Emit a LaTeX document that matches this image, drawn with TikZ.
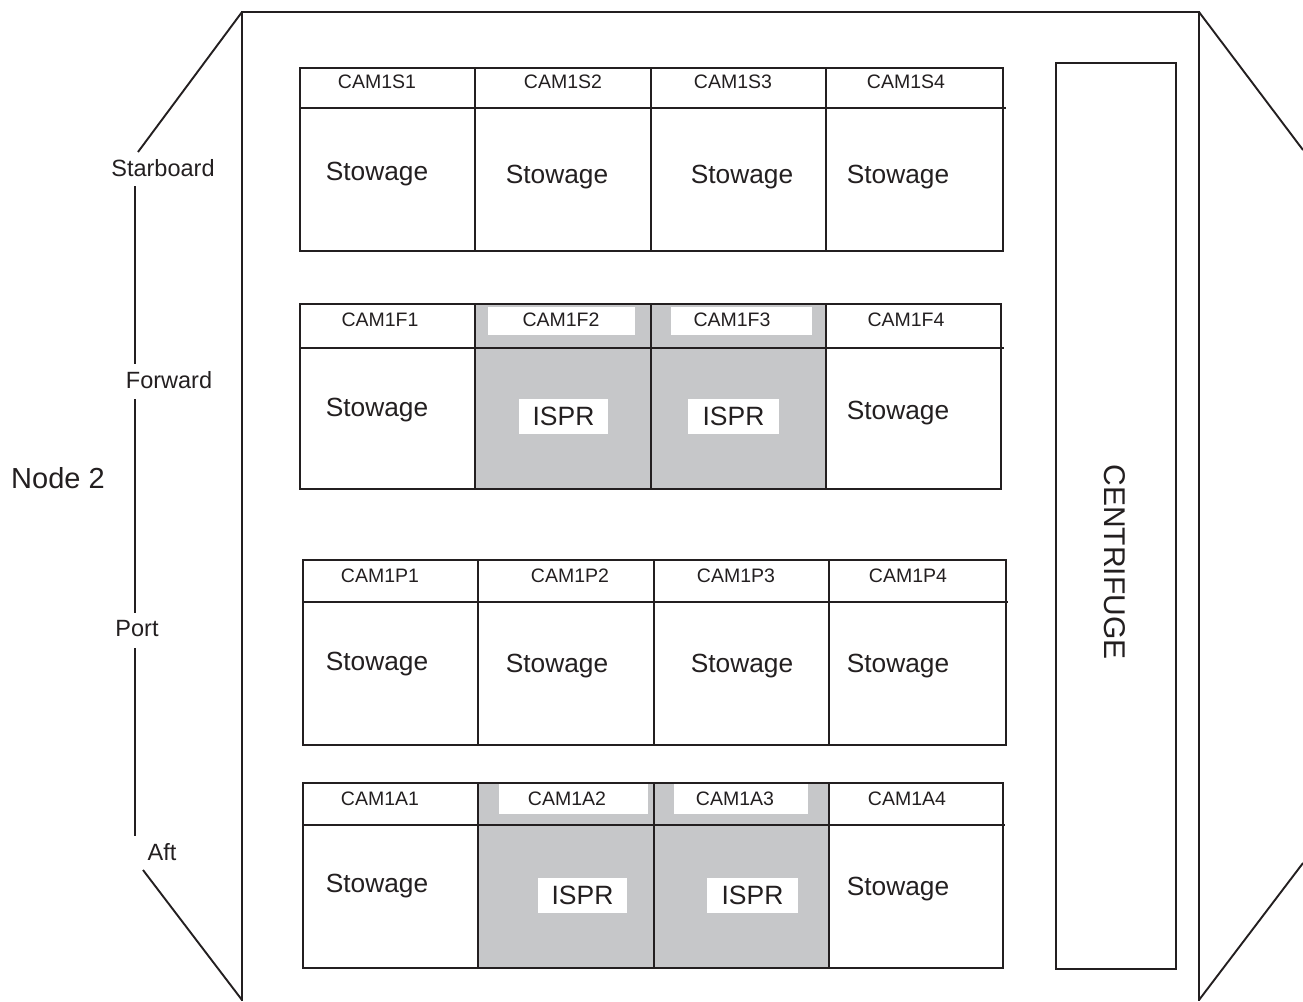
\documentclass[tikz,border=0pt]{standalone}
\usepackage{fontspec}
\setmainfont{Liberation Sans}
\definecolor{ink}{HTML}{231F20}
\definecolor{rackgray}{HTML}{C6C7C9}
\begin{document}
\begin{tikzpicture}[x=1pt,y=-1pt,
  line width=1.9pt, draw=ink, text=ink,
  hdr/.style={font=\fontsize{19.5}{22}\selectfont, inner sep=0pt},
  stow/.style={font=\fontsize{26.3}{30}\selectfont, inner sep=0pt, yshift=-3pt},
  ispr/.style={font=\fontsize{26.5}{30}\selectfont, inner sep=0pt},
  side/.style={font=\fontsize{23.5}{27}\selectfont, inner sep=0pt},
  whitebox/.style={fill=white, draw=none}]
\useasboundingbox (0,0) rectangle (1303,1001);

% outer module outline
\draw (242,1001) -- (242,12) -- (1199,12) -- (1199,1001);
\draw (242,12) -- (138,152);
\draw (143,870) -- (242,1000);
\draw (1199,12) -- (1303,150);
\draw (1199,1000) -- (1303,863);

% side axis
\node[side] (starboard) at (163,168) {Starboard};
\node[side] (forward) at (169,380) {Forward};
\node[side] (port) at (137,629) {Port};
\node[side] (aft) at (162,852) {Aft};
\node[font=\fontsize{29}{33}\selectfont, inner sep=0pt] (node2) at (58,478) {Node 2};
\draw (135,186) -- (135,364);
\draw (135,399) -- (135,613);
\draw (135,648) -- (135,836);

% gray ISPR racks
\fill[rackgray] (475,304) rectangle (826,489);
\fill[rackgray] (478,783) rectangle (829,968);
\fill[white] (488,307) rectangle (635,335);
\fill[white] (671,307) rectangle (812,335);
\fill[white] (499,784) rectangle (648,814);
\fill[white] (674,784) rectangle (808,814);

% row S
\draw (300,68) rectangle (1003,251);
\draw (300,108) -- (1006,108);
\foreach \x in {475,651,826} \draw (\x,68) -- (\x,251);
% row F
\draw (300,304) rectangle (1001,489);
\draw (300,348) -- (1004,348);
\foreach \x in {475,651,826} \draw (\x,304) -- (\x,489);
% row P
\draw (303,560) rectangle (1006,745);
\draw (303,602) -- (1008,602);
\foreach \x in {478,654,829} \draw (\x,560) -- (\x,745);
% row A
\draw (303,783) rectangle (1003,968);
\draw (303,825) -- (1005,825);
\foreach \x in {478,654,829} \draw (\x,783) -- (\x,968);

% centrifuge
\draw (1056,63) rectangle (1176,969);
\node[font=\fontsize{30}{34}\selectfont, inner sep=0pt, rotate=-90] (centrifuge) at (1115,562) {CENTRIFUGE};

% row S labels
\node[hdr] (s1) at (377,82) {CAM1S1};
\node[hdr] (s2) at (563,82) {CAM1S2};
\node[hdr] (s3) at (733,82) {CAM1S3};
\node[hdr] (s4) at (906,82) {CAM1S4};
\node[stow] (s1b) at (377,171) {Stowage};
\node[stow] (s2b) at (557,174) {Stowage};
\node[stow] (s3b) at (742,174) {Stowage};
\node[stow] (s4b) at (898,174) {Stowage};
% row F labels
\node[hdr] (f1) at (380,320) {CAM1F1};
\node[hdr] (f2) at (561,320) {CAM1F2};
\node[hdr] (f3) at (732,320) {CAM1F3};
\node[hdr] (f4) at (906,320) {CAM1F4};
\node[stow] (f1b) at (377,407) {Stowage};
\node[ispr, whitebox, minimum width=89pt, minimum height=35pt] (f2b) at (563.5,416.5) {ISPR};
\node[ispr, whitebox, minimum width=91pt, minimum height=35pt] (f3b) at (733.5,416.5) {ISPR};
\node[stow] (f4b) at (898,410) {Stowage};
% row P labels
\node[hdr] (p1) at (380,576) {CAM1P1};
\node[hdr] (p2) at (570,576) {CAM1P2};
\node[hdr] (p3) at (736,576) {CAM1P3};
\node[hdr] (p4) at (908,576) {CAM1P4};
\node[stow] (p1b) at (377,661) {Stowage};
\node[stow] (p2b) at (557,663) {Stowage};
\node[stow] (p3b) at (742,663) {Stowage};
\node[stow] (p4b) at (898,663) {Stowage};
% row A labels
\node[hdr] (a1) at (380,799) {CAM1A1};
\node[hdr] (a2) at (567,799) {CAM1A2};
\node[hdr] (a3) at (735,799) {CAM1A3};
\node[hdr] (a4) at (907,799) {CAM1A4};
\node[stow] (a1b) at (377,883) {Stowage};
\node[ispr, whitebox, minimum width=89pt, minimum height=35pt] (a2b) at (582.5,895.5) {ISPR};
\node[ispr, whitebox, minimum width=91pt, minimum height=35pt] (a3b) at (752.5,895.5) {ISPR};
\node[stow] (a4b) at (898,886) {Stowage};
\end{tikzpicture}
\end{document}
